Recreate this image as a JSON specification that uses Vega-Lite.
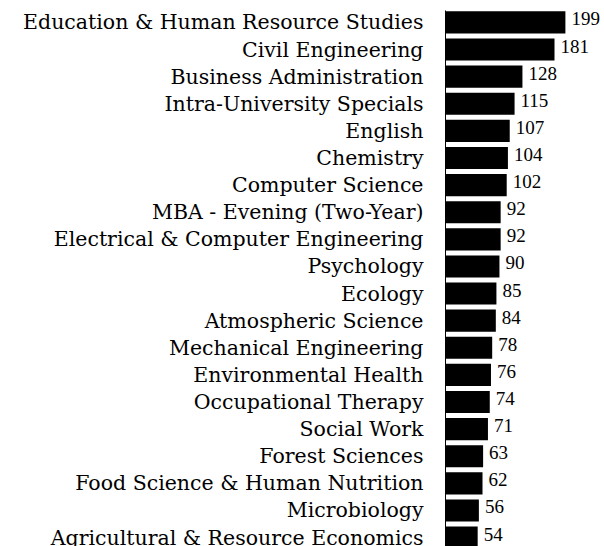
{
  "$schema": "https://vega.github.io/schema/vega-lite/v6.json",
  "autosize": {"type": "none"},
  "width": 121,
  "height": 540,
  "padding": {"left": 445, "top": 10, "right": 38, "bottom": 0},
  "background": "white",
  "data": {"values": [
    {"dept": "Education & Human Resource Studies", "n": 199},
    {"dept": "Civil Engineering", "n": 181},
    {"dept": "Business Administration", "n": 128},
    {"dept": "Intra-University Specials", "n": 115},
    {"dept": "English", "n": 107},
    {"dept": "Chemistry", "n": 104},
    {"dept": "Computer Science", "n": 102},
    {"dept": "MBA - Evening (Two-Year)", "n": 92},
    {"dept": "Electrical & Computer Engineering", "n": 92},
    {"dept": "Psychology", "n": 90},
    {"dept": "Ecology", "n": 85},
    {"dept": "Atmospheric Science", "n": 84},
    {"dept": "Mechanical Engineering", "n": 78},
    {"dept": "Environmental Health", "n": 76},
    {"dept": "Occupational Therapy", "n": 74},
    {"dept": "Social Work", "n": 71},
    {"dept": "Forest Sciences", "n": 63},
    {"dept": "Food Science & Human Nutrition", "n": 62},
    {"dept": "Microbiology", "n": 56},
    {"dept": "Agricultural & Resource Economics", "n": 54}
  ]},
  "encoding": {
    "y": {"field": "dept", "type": "nominal", "sort": null,
      "scale": {"paddingInner": 0.185, "paddingOuter": 0.05},
      "axis": {"title": null, "ticks": false, "domain": true, "domainColor": "#000", "domainWidth": 1,
        "labelFont": "DejaVu Serif", "labelFontSize": 20.5, "labelColor": "#000", "labelPadding": 22, "labelLimit": 0, "labelBaseline": "middle", "labelOffset": 1}},
    "x": {"field": "n", "type": "quantitative", "scale": {"domain": [0, 200]}, "axis": null}
  },
  "layer": [
    {"mark": {"type": "bar", "color": "#000"}},
    {"mark": {"type": "text", "align": "left", "dx": 6, "dy": -3, "font": "Liberation Serif", "fontSize": 19, "color": "#000"},
     "encoding": {"text": {"field": "n", "type": "quantitative"}}}
  ],
  "config": {"view": {"stroke": null}}
}
